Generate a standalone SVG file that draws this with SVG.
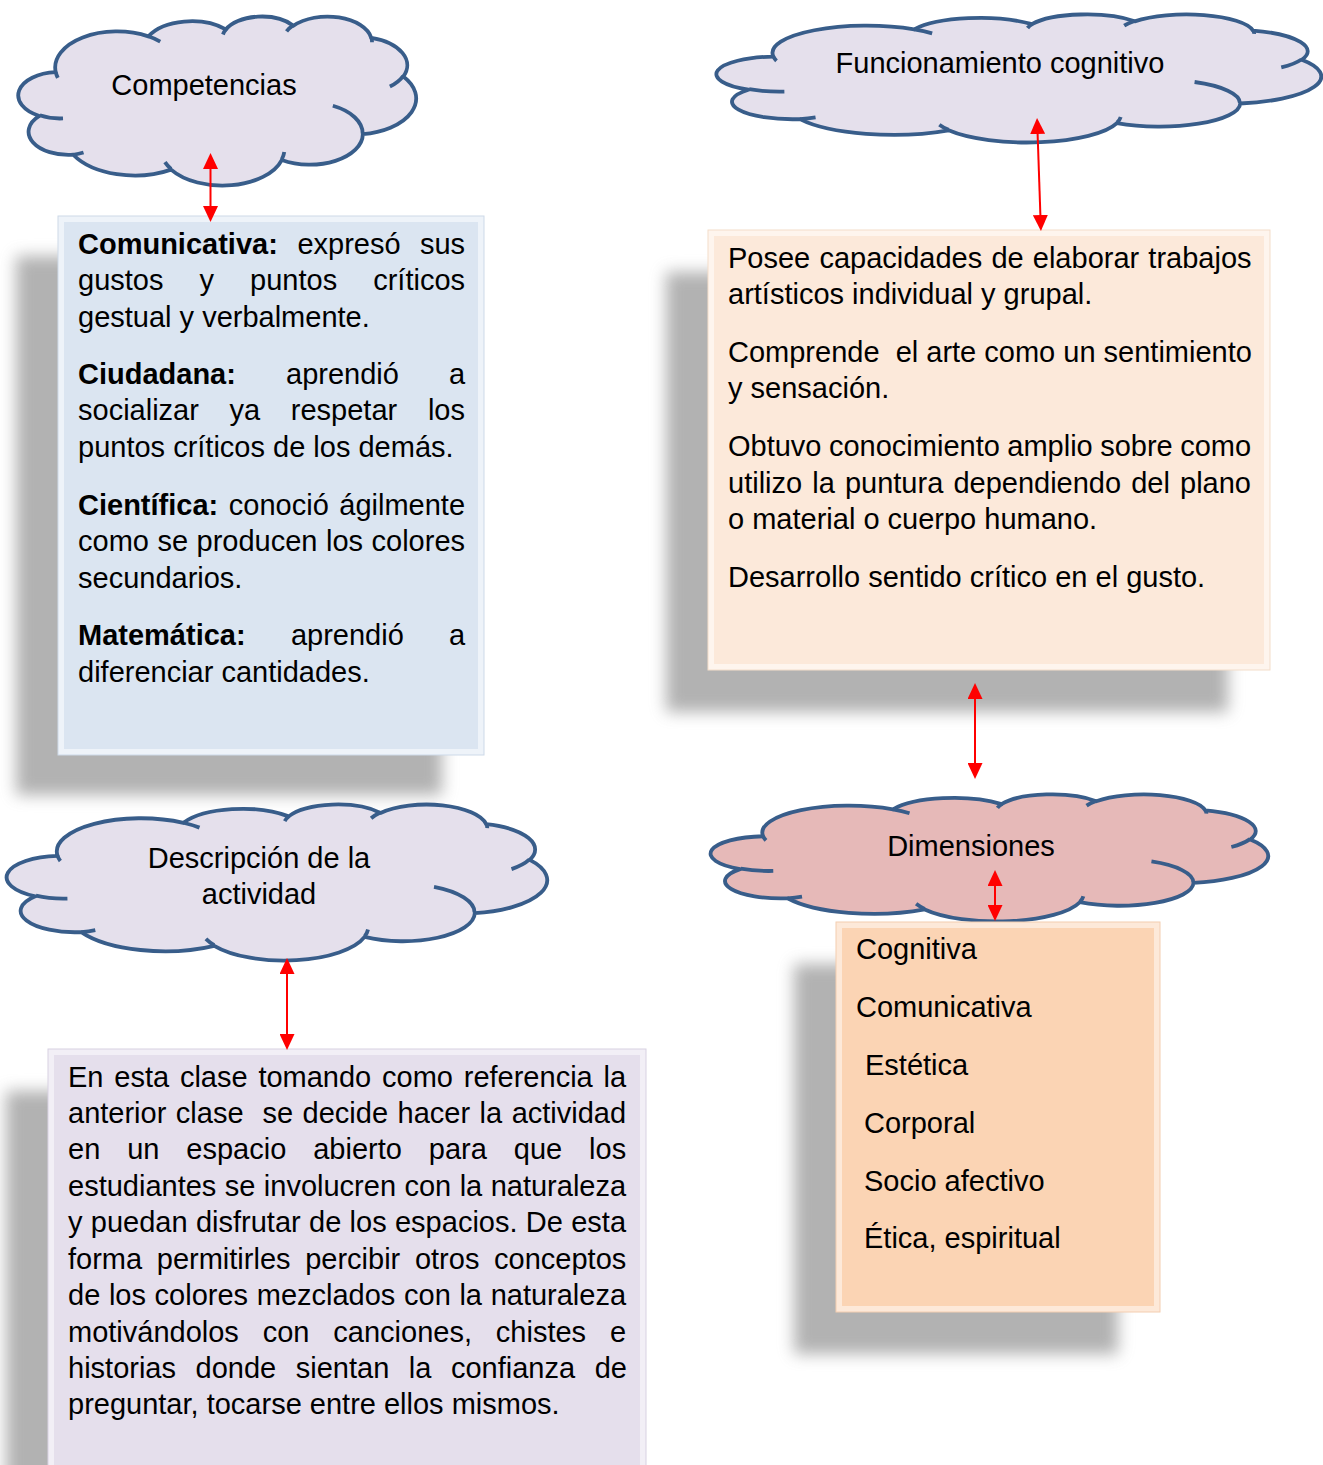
<svg xmlns="http://www.w3.org/2000/svg" width="1323" height="1465" viewBox="0 0 1323 1465">
<style>
.t{font-family:"Liberation Sans",Arial,sans-serif;font-size:29px;fill:#000}
.bd{font-weight:bold}
.ct{text-anchor:middle}
.cl{stroke:#385d8a;stroke-width:3.8;stroke-linejoin:round}
.cr{fill:none;stroke:#385d8a;stroke-width:3.8;stroke-linecap:butt}
.sh{fill:#7f7f7f;opacity:0.6;filter:url(#blur)}
.arr{stroke:#ff0000;stroke-width:2;fill:none;marker-start:url(#ah);marker-end:url(#ah)}
</style>
<defs>
<filter id="blur" x="-20%" y="-20%" width="140%" height="140%"><feGaussianBlur stdDeviation="8"/></filter>
<marker id="ah" markerUnits="userSpaceOnUse" markerWidth="16" markerHeight="15" viewBox="0 0 16 15" refX="12" refY="7.5" orient="auto-start-reverse"><path d="M0,0 L16,7.5 L0,15 z" fill="#ff0000"/></marker>
<path id="cloudShape" vector-effect="non-scaling-stroke" d="M 9.03 33.26 A 15.63 21.27 0 0 1 32.42 12.04 A 12.34 16.82 0 0 1 51.98 7.94 A 10.10 13.76 0 0 1 69.06 5.74 A 11.24 15.27 0 0 1 88.70 12.91 A 12.34 16.84 0 0 1 96.80 35.79 A 15.68 21.34 0 0 1 86.58 69.91 A 13.39 18.21 0 0 1 66.10 85.22 A 15.63 21.33 0 0 1 38.15 90.89 A 17.87 24.41 0 0 1 13.44 82.11 A 10.09 13.70 0 0 1 4.89 59.14 A 10.06 13.76 0 0 1 9.03 33.26 Z"/>
<path id="cloudCrease" vector-effect="non-scaling-stroke" d="M 10.86 60.60 A 10.06 13.76 0 0 1 5.00 58.75 M 16.04 80.79 A 10.09 13.70 0 0 1 13.44 82.11 M 38.14 90.49 A 15.63 21.33 0 0 1 36.60 86.46 M 66.73 80.44 A 15.63 21.33 0 0 1 66.11 84.86 M 79.00 53.13 A 13.39 18.21 0 0 1 86.53 69.65 M 96.75 35.54 A 12.34 16.84 0 0 1 93.40 41.74 M 88.71 12.56 A 11.24 15.27 0 0 1 88.89 15.49 M 67.31 9.15 A 11.24 15.27 0 0 1 69.03 5.41 M 51.25 10.93 A 10.10 13.76 0 0 1 52.08 7.71 M 32.41 12.02 A 15.63 21.27 0 0 1 35.41 15.14 M 9.55 36.55 A 15.63 21.27 0 0 1 9.03 33.26"/>
</defs>
<rect width="1323" height="1465" fill="#ffffff"/>

<g id="shadows">
<rect class="sh" x="16" y="256" width="426" height="539"/>
<rect class="sh" x="666" y="272" width="562" height="440"/>
<rect class="sh" x="794" y="964" width="324" height="390"/>
<rect class="sh" x="6" y="1091" width="598" height="430"/>
</g>

<g id="node-competencias">
<use href="#cloudShape" class="cl" fill="#e5e0ec" transform="translate(20,16) scale(3.96,1.69)"/>
<use href="#cloudCrease" class="cr" transform="translate(20,16) scale(3.96,1.69)"/>
<text class="t ct" x="204" y="95">Competencias</text>
</g>

<g id="node-funcionamiento">
<use href="#cloudShape" class="cl" fill="#e5e0ec" transform="translate(719,14) scale(6.02,1.28)"/>
<use href="#cloudCrease" class="cr" transform="translate(719,14) scale(6.02,1.28)"/>
<text class="t ct" x="1000" y="73">Funcionamiento cognitivo</text>
</g>

<g id="node-descripcion">
<use href="#cloudShape" class="cl" fill="#e5e0ec" transform="translate(9,804) scale(5.38,1.56)"/>
<use href="#cloudCrease" class="cr" transform="translate(9,804) scale(5.38,1.56)"/>
<text class="t ct" x="259" y="868">Descripción de la</text>
<text class="t ct" x="259" y="904">actividad</text>
</g>

<g id="node-dimensiones">
<use href="#cloudShape" class="cl" fill="#e6b9b8" transform="translate(713,794) scale(5.55,1.27)"/>
<use href="#cloudCrease" class="cr" transform="translate(713,794) scale(5.55,1.27)"/>
<text class="t ct" x="971" y="856">Dimensiones</text>
</g>

<g id="node-competencias-box">
<rect x="58" y="216" width="426" height="539" fill="#eef3f9" stroke="#cdd9e8" stroke-width="1"/>
<rect x="64" y="222" width="414" height="527" fill="#dbe5f1"/>
<text class="t" y="254"><tspan x="78" class="bd">Comunicativa:</tspan><tspan x="297.4">expresó</tspan><tspan x="419.9">sus</tspan></text>
<text class="t" y="290"><tspan x="78">gustos</tspan><tspan x="199.5">y</tspan><tspan x="250.1">puntos</tspan><tspan x="373.2">críticos</tspan></text>
<text class="t" x="78" y="327">gestual y verbalmente.</text>
<text class="t" y="384"><tspan x="78" class="bd">Ciudadana:</tspan><tspan x="286">aprendió</tspan><tspan x="448.9">a</tspan></text>
<text class="t" y="420"><tspan x="78">socializar</tspan><tspan x="229.5">ya</tspan><tspan x="290.8">respetar</tspan><tspan x="427.9">los</tspan></text>
<text class="t" x="78" y="457">puntos críticos de los demás.</text>
<text class="t" y="515"><tspan x="78" class="bd">Científica:</tspan><tspan x="228.8">conoció</tspan><tspan x="339.3">ágilmente</tspan></text>
<text class="t" x="78" y="551" word-spacing="0.44">como se producen los colores</text>
<text class="t" x="78" y="588">secundarios.</text>
<text class="t" y="645"><tspan x="78" class="bd">Matemática:</tspan><tspan x="290.9">aprendió</tspan><tspan x="448.9">a</tspan></text>
<text class="t" x="78" y="682">diferenciar cantidades.</text>
</g>

<g id="node-funcionamiento-box">
<rect x="708" y="230" width="562" height="440" fill="#fef5ee" stroke="#f3ddca" stroke-width="1"/>
<rect x="714" y="236" width="550" height="428" fill="#fce9da"/>
<text class="t" x="728" y="268" word-spacing="1.1">Posee capacidades de elaborar trabajos</text>
<text class="t" x="728" y="304">artísticos individual y grupal.</text>
<text class="t" x="728" y="362" xml:space="preserve">Comprende  el arte como un sentimiento</text>
<text class="t" x="728" y="398">y sensación.</text>
<text class="t" x="728" y="456" word-spacing="-0.6">Obtuvo conocimiento amplio sobre como</text>
<text class="t" x="728" y="493" word-spacing="2.05">utilizo la puntura dependiendo del plano</text>
<text class="t" x="728" y="529">o material o cuerpo humano.</text>
<text class="t" x="728" y="587">Desarrollo sentido crítico en el gusto.</text>
</g>

<g id="node-dimensiones-box">
<rect x="836" y="922" width="324" height="390" fill="#fde9d9" stroke="#f3cdb0" stroke-width="1"/>
<rect x="842" y="928" width="312" height="378" fill="#fbd4b4"/>
<text class="t" x="856" y="959">Cognitiva</text>
<text class="t" x="856" y="1017">Comunicativa</text>
<text class="t" x="865" y="1075">Estética</text>
<text class="t" x="864" y="1133">Corporal</text>
<text class="t" x="864" y="1191">Socio afectivo</text>
<text class="t" x="864" y="1248">Ética, espiritual</text>
</g>

<g id="node-descripcion-box">
<rect x="48" y="1049" width="598" height="430" fill="#f2eff6" stroke="#d8d1e2" stroke-width="1"/>
<rect x="54" y="1055" width="586" height="420" fill="#e5dfec"/>
<text class="t" x="68" y="1087" word-spacing="2.74">En esta clase tomando como referencia la</text>
<text class="t" x="68" y="1123" word-spacing="1.43" xml:space="preserve">anterior clase  se decide hacer la actividad</text>
<text class="t" x="68" y="1159" word-spacing="18.86">en un espacio abierto para que los</text>
<text class="t" x="68" y="1196" word-spacing="0.38">estudiantes se involucren con la naturaleza</text>
<text class="t" x="68" y="1232" word-spacing="0.27">y puedan disfrutar de los espacios. De esta</text>
<text class="t" x="68" y="1269" word-spacing="6.6">forma permitirles percibir otros conceptos</text>
<text class="t" x="68" y="1305" word-spacing="0.59">de los colores mezclados con la naturaleza</text>
<text class="t" x="68" y="1342" word-spacing="15.79">motivándolos con canciones, chistes e</text>
<text class="t" x="68" y="1378" word-spacing="11.5">historias donde sientan la confianza de</text>
<text class="t" x="68" y="1414">preguntar, tocarse entre ellos mismos.</text>
</g>

<g id="connectors">
<line class="arr" x1="210.5" y1="157" x2="210.5" y2="218"/>
<line class="arr" x1="1037.2" y1="122" x2="1040.8" y2="227"/>
<line class="arr" x1="975" y1="687" x2="975" y2="775"/>
<line class="arr" x1="995" y1="874" x2="995" y2="917"/>
<line class="arr" x1="287" y1="962" x2="287" y2="1046"/>
</g>
</svg>
